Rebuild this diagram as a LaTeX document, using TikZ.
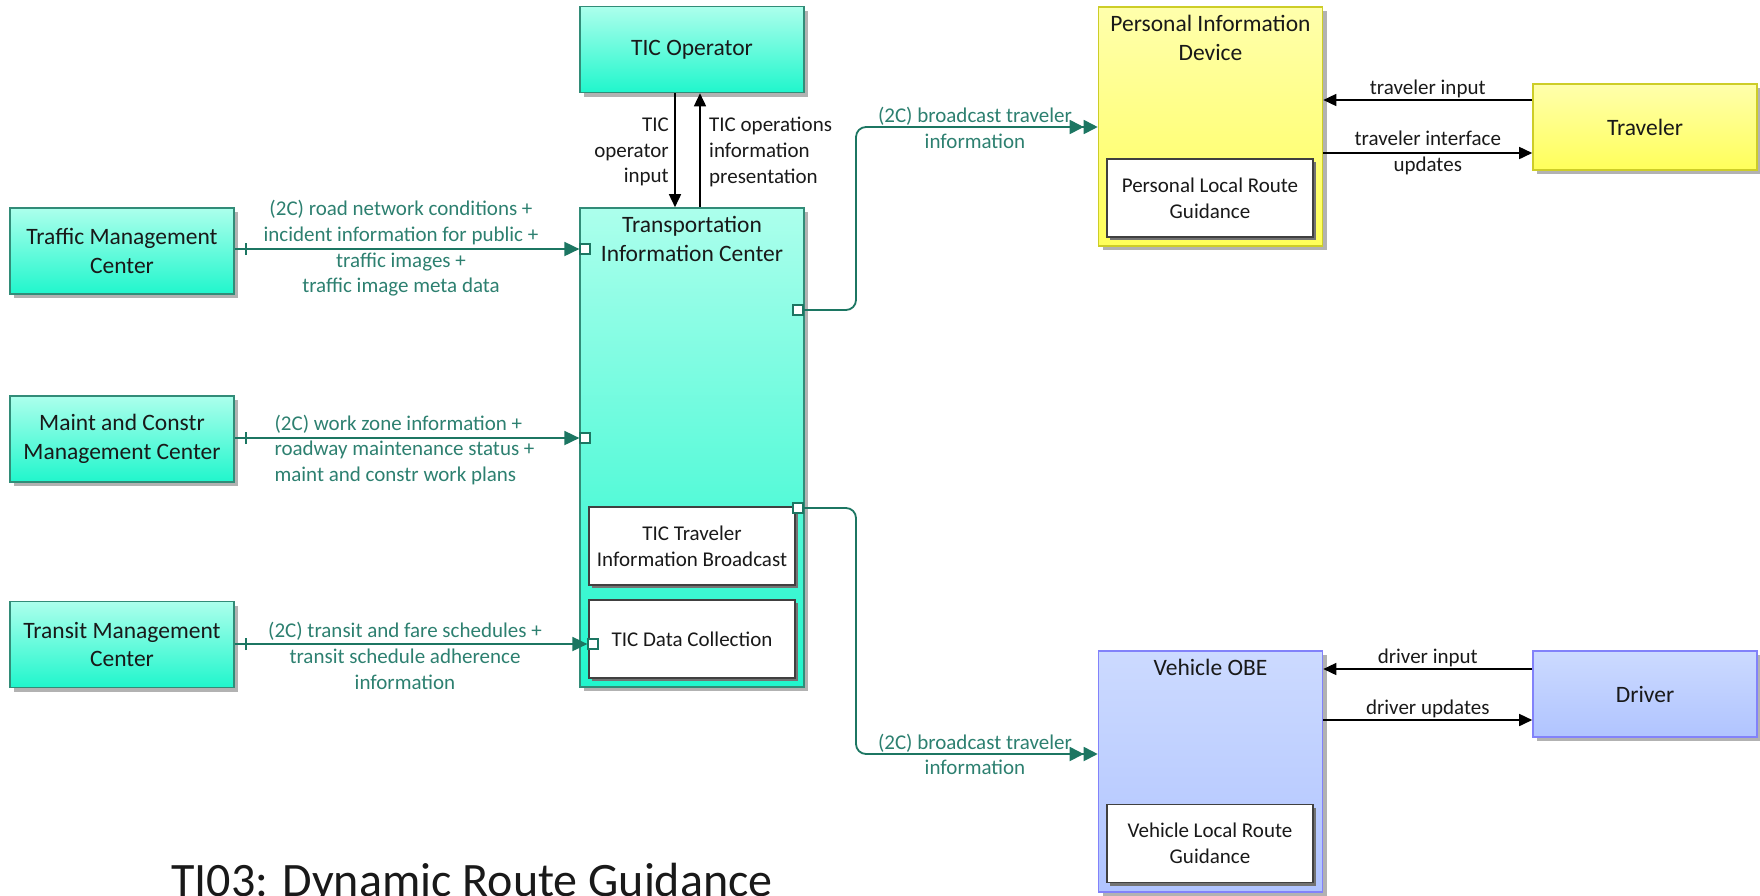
\documentclass[tikz,border=0pt]{standalone}
\usepackage{fontspec}
\setmainfont{Carlito}
\usepackage{tikz}
\usetikzlibrary{arrows.meta,positioning,shadows,decorations.markings}

\definecolor{tealtop}{RGB}{172,255,236}
\definecolor{tealbot}{RGB}{32,246,204}
\definecolor{tealedge}{RGB}{50,140,120}
\definecolor{yeltop}{RGB}{255,255,172}
\definecolor{yelbot}{RGB}{255,255,90}
\definecolor{yeledge}{RGB}{205,205,40}
\definecolor{bluetop}{RGB}{204,218,255}
\definecolor{bluebot}{RGB}{176,196,255}
\definecolor{blueedge}{RGB}{130,130,250}
\definecolor{flowc}{RGB}{28,118,98}
\definecolor{flowtxt}{RGB}{45,128,112}
\definecolor{inkc}{RGB}{25,25,25}

\newcommand{\boxfont}{\fontsize{23.5}{28.5}\selectfont}
\newcommand{\lblfont}{\fontsize{21}{25.7}\selectfont}

\begin{document}
\begin{tikzpicture}[
  x=1pt, y=-1pt,
  every node/.style={text=inkc},
  outer/.style={draw,line width=1.6pt,minimum width=224pt,minimum height=86pt,
    align=center,font=\boxfont,inner sep=2pt,
    drop shadow={shadow xshift=4pt,shadow yshift=-4pt,fill=black!30,opacity=1}},
  centerbox/.style={outer,draw=tealedge,top color=tealtop,bottom color=tealbot},
  devbox/.style={outer,draw=yeledge,top color=yeltop,bottom color=yelbot},
  vehbox/.style={outer,draw=blueedge,top color=bluetop,bottom color=bluebot},
  subbox/.style={draw=black!75,fill=white,line width=1.4pt,minimum width=206pt,
    minimum height=78pt,align=center,font=\lblfont,
    drop shadow={shadow xshift=3pt,shadow yshift=-3pt,fill=black!55,opacity=1}},
  toptxt/.style={anchor=north,align=center,font=\boxfont,inner sep=9pt},
  port/.style={draw=flowc,fill=white,line width=1.2pt,minimum size=10pt,inner sep=0pt},
  flow/.style={draw=flowc,line width=1.8pt,-{Triangle[length=15pt,width=14pt]}},
  bcast/.style={flow,rounded corners=10pt,
    -{Triangle[length=14pt,width=14pt]Triangle[length=14pt,width=14pt]}},
  srctick/.style={postaction={decorate},decoration={markings,
    mark=at position 11pt with {\draw[flowc,line width=1.4pt,-] (0,-6pt) -- (0,6pt);}}},
  flowlbl/.style={font=\lblfont,text=flowtxt,align=center,inner sep=0pt},
  sig/.style={draw=black,line width=1.6pt,-{Triangle[length=13pt,width=12pt]}},
  siglbl/.style={font=\lblfont,text=inkc,inner sep=0pt}
]
\useasboundingbox (0,0) rectangle (1760,895);
\clip (0,0) rectangle (1760,895);

% centers
\node[centerbox] (op) at (692,49.5) {TIC Operator};
\node[centerbox] (tmc) at (122,251) {Traffic Management\\Center};
\node[centerbox] (mcm) at (122,439) {Maint and Constr\\Management Center};
\node[centerbox] (trm) at (122,644.5) {Transit Management\\Center};
\node[centerbox,minimum height=479pt,
  label={[toptxt]north:Transportation\\Information Center}] (tic) at (692,447.5) {};
\node[subbox] (tib) at (692,546) {TIC Traveler\\Information Broadcast};
\node[subbox] (tdc) at (692,639) {TIC Data Collection};

% devices and users
\node[devbox,minimum height=239pt,
  label={[toptxt]north:Personal Information\\Device}] (pid) at (1210.5,126.5) {};
\node[subbox] (plrg) at (1210,198) {Personal Local Route\\Guidance};
\node[devbox] (trv) at (1645,127) {Traveler};
\node[vehbox,minimum height=241pt,label={[toptxt]north:Vehicle OBE}] (obe) at (1210.5,771.5) {};
\node[subbox] (vlrg) at (1210,843.5) {Vehicle Local Route\\Guidance};
\node[vehbox] (drv) at (1645,694) {Driver};

% ports
\node[port] (ptmc) at (585,249) {};
\node[port] (pmcm) at (585,438) {};
\node[port] (ptrm) at (593,644) {};
\node[port] (ppid) at (798,310) {};
\node[port] (pobe) at (798,508) {};

% flows in
\draw[flow,srctick] (tmc.east |- ptmc) -- (ptmc.west);
\draw[flow,srctick] (mcm.east |- pmcm) -- (pmcm.west);
\draw[flow,srctick] (trm.east |- ptrm) -- (ptrm.west);
\node[flowlbl] at (401,248.5) {(2C) road network conditions +\\incident information for public +\\traffic images +\\traffic image meta data};
\node[flowlbl,align=left] at (404.5,450) {(2C) work zone information +\\roadway maintenance status +\\maint and constr work plans};
\node[flowlbl] at (405,656) {(2C) transit and fare schedules +\\transit schedule adherence\\information};

% broadcast flows out
\coordinate (bendup) at (856,127);
\coordinate (benddn) at (856,754);
\draw[bcast] (ppid.east) -| (bendup) -- (pid.west |- bendup);
\draw[bcast] (pobe.east) -| (benddn) -- (obe.west |- benddn);
\node[port] at (ppid) {};
\node[port] at (pobe) {};
\node[flowlbl] at (975,128) {(2C) broadcast traveler\\information};
\node[flowlbl] at (975,754.5) {(2C) broadcast traveler\\information};

% operator
\draw[sig] ([xshift=-17pt]op.south) -- ([xshift=-17pt]tic.north);
\draw[sig] ([xshift=8pt]tic.north) -- ([xshift=8pt]op.south);
\node[siglbl,align=right,anchor=east] at (669,152) {TIC\\operator\\input};
\node[siglbl,align=left,anchor=west] at (709,152) {TIC operations\\information\\presentation};

% traveler and driver
\coordinate (tin) at (1436,100);
\coordinate (tup) at (1436,153);
\coordinate (din) at (1436,669);
\coordinate (dup) at (1436,720);
\draw[sig] (trv.west |- tin) -- (pid.east |- tin) node[siglbl,midway,above=1pt] {traveler input};
\draw[sig] (pid.east |- tup) -- (trv.west |- tup) node[siglbl,midway,align=center] {traveler interface\\updates};
\draw[sig] (drv.west |- din) -- (obe.east |- din) node[siglbl,midway,above=1pt] {driver input};
\draw[sig] (obe.east |- dup) -- (drv.west |- dup) node[siglbl,midway,above=1pt] {driver updates};

\node[anchor=base west,font=\fontsize{48}{58}\selectfont,inner sep=0pt] (title) at (171,896) {TI03: Dynamic Route Guidance};
\end{tikzpicture}
\end{document}
